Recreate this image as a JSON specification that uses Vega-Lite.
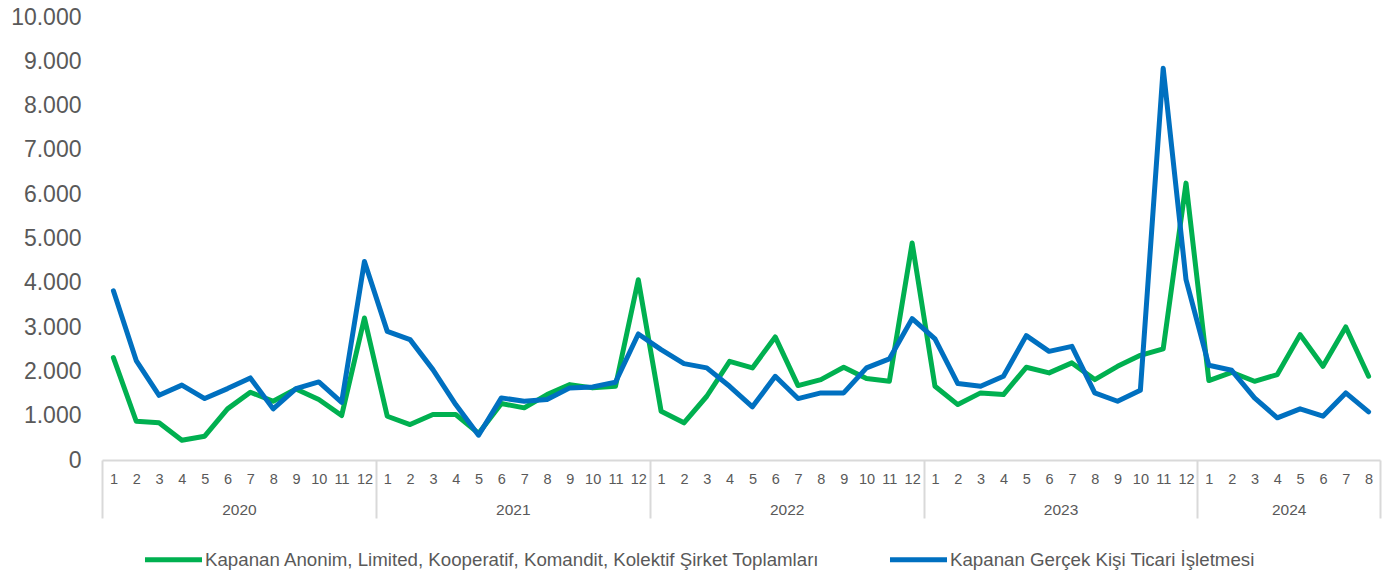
{
  "$schema": "https://vega.github.io/schema/vega-lite/v6.json",
  "width": 1278,
  "height": 443,
  "autosize": "none",
  "padding": {"left": 102, "top": 17, "right": 6, "bottom": 114},
  "background": "white",
  "config": {"view": {"stroke": null}, "font": "Liberation Sans"},
  "data": {"values": [
    {"t": 0, "yil": 2020, "ay": 1, "sirket": 2310, "gercek": 3820},
    {"t": 1, "yil": 2020, "ay": 2, "sirket": 875, "gercek": 2245},
    {"t": 2, "yil": 2020, "ay": 3, "sirket": 840, "gercek": 1460},
    {"t": 3, "yil": 2020, "ay": 4, "sirket": 447, "gercek": 1690},
    {"t": 4, "yil": 2020, "ay": 5, "sirket": 537, "gercek": 1387},
    {"t": 5, "yil": 2020, "ay": 6, "sirket": 1154, "gercek": 1612},
    {"t": 6, "yil": 2020, "ay": 7, "sirket": 1530, "gercek": 1853},
    {"t": 7, "yil": 2020, "ay": 8, "sirket": 1326, "gercek": 1154},
    {"t": 8, "yil": 2020, "ay": 9, "sirket": 1605, "gercek": 1612},
    {"t": 9, "yil": 2020, "ay": 10, "sirket": 1364, "gercek": 1763},
    {"t": 10, "yil": 2020, "ay": 11, "sirket": 1003, "gercek": 1303},
    {"t": 11, "yil": 2020, "ay": 12, "sirket": 3206, "gercek": 4483},
    {"t": 12, "yil": 2021, "ay": 1, "sirket": 988, "gercek": 2904},
    {"t": 13, "yil": 2021, "ay": 2, "sirket": 800, "gercek": 2717},
    {"t": 14, "yil": 2021, "ay": 3, "sirket": 1026, "gercek": 2040},
    {"t": 15, "yil": 2021, "ay": 4, "sirket": 1026, "gercek": 1251},
    {"t": 16, "yil": 2021, "ay": 5, "sirket": 600, "gercek": 560},
    {"t": 17, "yil": 2021, "ay": 6, "sirket": 1274, "gercek": 1402},
    {"t": 18, "yil": 2021, "ay": 7, "sirket": 1177, "gercek": 1326},
    {"t": 19, "yil": 2021, "ay": 8, "sirket": 1477, "gercek": 1364},
    {"t": 20, "yil": 2021, "ay": 9, "sirket": 1702, "gercek": 1628},
    {"t": 21, "yil": 2021, "ay": 10, "sirket": 1628, "gercek": 1650},
    {"t": 22, "yil": 2021, "ay": 11, "sirket": 1664, "gercek": 1754},
    {"t": 23, "yil": 2021, "ay": 12, "sirket": 4070, "gercek": 2845},
    {"t": 24, "yil": 2022, "ay": 1, "sirket": 1100, "gercek": 2492},
    {"t": 25, "yil": 2022, "ay": 2, "sirket": 839, "gercek": 2176},
    {"t": 26, "yil": 2022, "ay": 3, "sirket": 1439, "gercek": 2079},
    {"t": 27, "yil": 2022, "ay": 4, "sirket": 2228, "gercek": 1664},
    {"t": 28, "yil": 2022, "ay": 5, "sirket": 2079, "gercek": 1200},
    {"t": 29, "yil": 2022, "ay": 6, "sirket": 2778, "gercek": 1890},
    {"t": 30, "yil": 2022, "ay": 7, "sirket": 1680, "gercek": 1387},
    {"t": 31, "yil": 2022, "ay": 8, "sirket": 1815, "gercek": 1515},
    {"t": 32, "yil": 2022, "ay": 9, "sirket": 2093, "gercek": 1515},
    {"t": 33, "yil": 2022, "ay": 10, "sirket": 1838, "gercek": 2079},
    {"t": 34, "yil": 2022, "ay": 11, "sirket": 1777, "gercek": 2282},
    {"t": 35, "yil": 2022, "ay": 12, "sirket": 4898, "gercek": 3191},
    {"t": 36, "yil": 2023, "ay": 1, "sirket": 1664, "gercek": 2733},
    {"t": 37, "yil": 2023, "ay": 2, "sirket": 1251, "gercek": 1725},
    {"t": 38, "yil": 2023, "ay": 3, "sirket": 1515, "gercek": 1664},
    {"t": 39, "yil": 2023, "ay": 4, "sirket": 1477, "gercek": 1890},
    {"t": 40, "yil": 2023, "ay": 5, "sirket": 2093, "gercek": 2807},
    {"t": 41, "yil": 2023, "ay": 6, "sirket": 1966, "gercek": 2453},
    {"t": 42, "yil": 2023, "ay": 7, "sirket": 2192, "gercek": 2566},
    {"t": 43, "yil": 2023, "ay": 8, "sirket": 1815, "gercek": 1515},
    {"t": 44, "yil": 2023, "ay": 9, "sirket": 2115, "gercek": 1326},
    {"t": 45, "yil": 2023, "ay": 10, "sirket": 2363, "gercek": 1574},
    {"t": 46, "yil": 2023, "ay": 11, "sirket": 2507, "gercek": 8843},
    {"t": 47, "yil": 2023, "ay": 12, "sirket": 6250, "gercek": 4070},
    {"t": 48, "yil": 2024, "ay": 1, "sirket": 1793, "gercek": 2138},
    {"t": 49, "yil": 2024, "ay": 2, "sirket": 1980, "gercek": 2025},
    {"t": 50, "yil": 2024, "ay": 3, "sirket": 1777, "gercek": 1402},
    {"t": 51, "yil": 2024, "ay": 4, "sirket": 1928, "gercek": 952},
    {"t": 52, "yil": 2024, "ay": 5, "sirket": 2830, "gercek": 1154},
    {"t": 53, "yil": 2024, "ay": 6, "sirket": 2115, "gercek": 988},
    {"t": 54, "yil": 2024, "ay": 7, "sirket": 3003, "gercek": 1515},
    {"t": 55, "yil": 2024, "ay": 8, "sirket": 1890, "gercek": 1087}
  ]},
  "transform": [{"fold": ["sirket", "gercek"], "as": ["seri", "deger"]}],
  "layer": [
    {
      "mark": {"type": "line", "strokeWidth": 5, "strokeJoin": "round", "strokeCap": "round"},
      "encoding": {
        "x": {
          "field": "t", "type": "quantitative",
          "scale": {"domain": [-0.5, 55.5], "nice": false, "zero": false},
          "axis": {
            "orient": "bottom", "title": null,
            "values": [0,1,2,3,4,5,6,7,8,9,10,11,12,13,14,15,16,17,18,19,20,21,22,23,24,25,26,27,28,29,30,31,32,33,34,35,36,37,38,39,40,41,42,43,44,45,46,47,48,49,50,51,52,53,54,55],
            "labelExpr": "'' + ((datum.value % 12) + 1)",
            "ticks": false, "grid": false,
            "domainColor": "#d9d9d9", "domainWidth": 2,
            "labelFontSize": 14.5, "labelColor": "#595959", "labelPadding": 12,
            "labelFlush": false, "labelOverlap": false, "labelBound": false
          }
        },
        "y": {
          "field": "deger", "type": "quantitative",
          "scale": {"domain": [0, 10000], "nice": false},
          "axis": {
            "title": null,
            "values": [0,1000,2000,3000,4000,5000,6000,7000,8000,9000,10000],
            "labelExpr": "replace(datum.label, ',', '.')",
            "domain": false, "ticks": false, "grid": false,
            "labelFontSize": 23, "labelColor": "#595959", "labelPadding": 21,
            "labelOverlap": false, "labelFlush": false
          }
        },
        "color": {
          "field": "seri", "type": "nominal",
          "scale": {"domain": ["sirket", "gercek"], "range": ["#00B050", "#0070C0"]},
          "legend": {
            "orient": "none", "legendX": 40, "legendY": 511,
            "direction": "horizontal", "title": null,
            "symbolType": "stroke", "symbolSize": 3250, "symbolStrokeWidth": 5,
            "labelFontSize": 18.7, "labelColor": "#595959", "labelLimit": 1000,
            "labelOffset": 0, "columnPadding": 59, "padding": 0,
            "labelExpr": "datum.value == 'sirket' ? 'Kapanan Anonim, Limited, Kooperatif, Komandit, Kolektif Şirket Toplamları' : 'Kapanan Gerçek Kişi Ticari İşletmesi'"
          }
        }
      }
    },
    {
      "transform": [{"filter": "datum.seri == 'sirket'"}],
      "mark": {"type": "point", "opacity": 0},
      "encoding": {
        "x": {
          "field": "t", "type": "quantitative",
          "axis": {
            "orient": "bottom", "title": null,
            "values": [5.5, 17.5, 29.5, 41.5, 51.5],
            "labelExpr": "'' + (2020 + floor(datum.value / 12))",
            "ticks": false, "domain": false, "grid": false,
            "labelFontSize": 15.5, "labelColor": "#595959", "labelPadding": 42,
            "labelFlush": false, "labelOverlap": false, "labelBound": false
          }
        }
      }
    },
    {
      "transform": [{"filter": "datum.seri == 'sirket'"}],
      "mark": {"type": "point", "opacity": 0},
      "encoding": {
        "x": {
          "field": "t", "type": "quantitative",
          "axis": {
            "orient": "bottom", "title": null,
            "values": [-0.5, 11.5, 23.5, 35.5, 47.5, 55.5],
            "labels": false, "domain": false, "grid": false,
            "ticks": true, "tickSize": 58, "tickColor": "#d9d9d9", "tickWidth": 2
          }
        }
      }
    }
  ],
  "resolve": {"axis": {"x": "independent"}}
}
